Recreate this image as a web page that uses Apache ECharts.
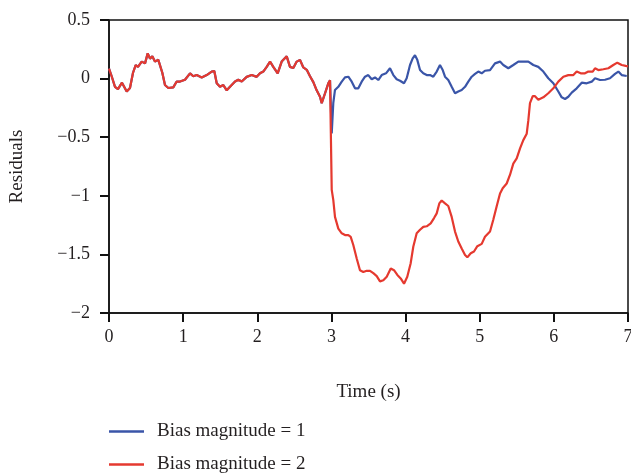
<!DOCTYPE html>
<html>
<head>
<meta charset="utf-8">
<script src="https://cdn.jsdelivr.net/npm/echarts@6/dist/echarts.min.js"></script>
<style>
html,body{margin:0;padding:0;background:#fff;}
#chart{width:631px;height:475px;}
</style>
</head>
<body>
<div id="chart"></div>
<script>
// Shared segment (both series coincide before the fault at t ≈ 3 s)
var timeShared = [0.000,0.036,0.081,0.121,0.175,0.239,0.283,0.324,0.360,0.391,0.441,0.486,0.522,0.553,0.584,0.620,0.665,0.688,0.719,0.755,0.800,0.867,0.913,0.958,1.025,1.093,1.137,1.183,1.250,1.318,1.385,1.420,1.453,1.497,1.542,1.588,1.632,1.700,1.744,1.790,1.857,1.925,1.992,2.037,2.081,2.127,2.172,2.216,2.275,2.329,2.397,2.441,2.486,2.532,2.576,2.621,2.667,2.711,2.756,2.801,2.846,2.869,2.914,2.958,2.981];
var residualShared = [0.085,0.020,-0.070,-0.090,-0.035,-0.110,-0.080,0.050,0.115,0.100,0.145,0.130,0.215,0.170,0.190,0.145,0.160,0.145,0.050,-0.055,-0.080,-0.075,-0.025,-0.025,-0.010,0.045,0.020,0.030,0.010,0.030,0.060,0.065,-0.040,-0.070,-0.055,-0.100,-0.070,-0.025,-0.010,-0.025,0.015,0.030,0.015,0.045,0.060,0.100,0.145,0.100,0.045,0.145,0.190,0.100,0.090,0.145,0.160,0.095,0.075,0.020,-0.030,-0.100,-0.155,-0.210,-0.125,-0.040,-0.015];

// Bias magnitude = 1 after the fault
var timeBias1 = [3.004,3.025,3.048,3.093,3.139,3.183,3.228,3.274,3.318,3.363,3.408,3.453,3.497,3.543,3.588,3.632,3.678,3.736,3.790,3.835,3.880,3.925,3.979,4.015,4.060,4.096,4.127,4.158,4.195,4.239,4.285,4.330,4.374,4.420,4.464,4.501,4.532,4.576,4.622,4.667,4.711,4.757,4.802,4.846,4.892,4.937,4.981,5.027,5.071,5.139,5.206,5.274,5.318,5.386,5.453,5.521,5.588,5.656,5.723,5.790,5.858,5.925,5.993,6.060,6.106,6.151,6.195,6.241,6.308,6.376,6.443,6.511,6.555,6.623,6.690,6.757,6.825,6.870,6.915,6.983];
var residualBias1 = [-0.467,-0.210,-0.097,-0.070,-0.026,0.010,0.016,-0.026,-0.083,-0.083,-0.026,0.016,0.030,-0.006,0.010,-0.012,0.030,0.045,0.088,0.030,-0.006,-0.018,-0.040,0.003,0.116,0.173,0.200,0.160,0.073,0.045,0.030,0.030,0.016,0.060,0.116,0.073,0.016,-0.012,-0.070,-0.125,-0.110,-0.097,-0.070,-0.026,0.016,0.040,0.060,0.045,0.067,0.073,0.130,0.145,0.116,0.088,0.116,0.145,0.145,0.145,0.116,0.100,0.060,0.003,-0.040,-0.110,-0.160,-0.174,-0.155,-0.120,-0.083,-0.035,-0.040,-0.026,0.003,-0.012,-0.010,0.003,0.040,0.060,0.030,0.022];

// Bias magnitude = 2 after the fault
var timeBias2 = [3.004,3.025,3.048,3.093,3.139,3.183,3.228,3.260,3.295,3.341,3.385,3.430,3.476,3.520,3.565,3.611,3.655,3.700,3.746,3.800,3.844,3.889,3.934,3.979,4.023,4.069,4.104,4.150,4.195,4.239,4.285,4.339,4.384,4.420,4.455,4.487,4.532,4.576,4.622,4.667,4.711,4.757,4.802,4.833,4.879,4.923,4.968,5.027,5.071,5.139,5.183,5.229,5.274,5.310,5.364,5.409,5.453,5.499,5.544,5.588,5.634,5.656,5.678,5.715,5.746,5.790,5.858,5.925,5.993,6.060,6.128,6.195,6.263,6.308,6.362,6.420,6.465,6.524,6.555,6.600,6.667,6.735,6.802,6.856,6.915,6.969,7.000];
var residualBias2 = [-0.950,-1.035,-1.180,-1.280,-1.320,-1.335,-1.335,-1.350,-1.420,-1.535,-1.635,-1.650,-1.640,-1.640,-1.660,-1.685,-1.730,-1.720,-1.690,-1.620,-1.635,-1.675,-1.705,-1.750,-1.690,-1.575,-1.435,-1.320,-1.290,-1.265,-1.260,-1.235,-1.190,-1.150,-1.065,-1.040,-1.065,-1.087,-1.180,-1.305,-1.390,-1.450,-1.505,-1.525,-1.490,-1.475,-1.430,-1.410,-1.350,-1.305,-1.205,-1.090,-0.980,-0.935,-0.895,-0.820,-0.725,-0.680,-0.595,-0.525,-0.470,-0.355,-0.210,-0.150,-0.150,-0.180,-0.160,-0.125,-0.083,-0.026,0.016,0.030,0.030,0.060,0.045,0.045,0.060,0.060,0.088,0.073,0.080,0.088,0.116,0.136,0.116,0.108,0.105];

var xTicks = [0,1,2,3,4,5,6,7];
var yTicks = [-2,-1.5,-1,-0.5,0,0.5];
var seriesNames = ['Bias magnitude = 1','Bias magnitude = 2'];

function pairs(t, v){ var out=[]; for(var i=0;i<t.length;i++){ out.push([t[i], v[i]]); } return out; }
var dataBias1 = pairs(timeShared, residualShared).concat(pairs(timeBias1, residualBias1));
var dataBias2 = pairs(timeShared, residualShared).concat(pairs(timeBias2, residualBias2));

var font = 'Liberation Serif';
var txt = '#231f20';
function fmt(v){ return String(v).replace('-', '\u2212'); }

function legendFor(name, top){
  return {
    orient:'vertical', left:104, top:top, itemWidth:35, itemHeight:2.5, itemGap:10, icon:'rect',
    textStyle:{fontFamily:font,fontSize:19,color:txt,padding:[0,0,0,8]},
    data:[name]
  };
}

var chart = echarts.init(document.getElementById('chart'), null, {renderer:'canvas'});
chart.setOption({
  animation:false,
  backgroundColor:'#fff',
  grid:{left:109,right:3,top:20,bottom:162,containLabel:false,outerBoundsMode:'none',show:true,borderColor:'#111',borderWidth:1.5,backgroundColor:'transparent'},
  legend:[legendFor(seriesNames[0], 417), legendFor(seriesNames[1], 450)],
  xAxis:{
    type:'value', min:xTicks[0], max:xTicks[xTicks.length-1], interval:1,
    name:'Time (s)', nameLocation:'middle', nameGap:70,
    nameTextStyle:{fontFamily:font,fontSize:19,color:txt},
    axisLine:{show:true,onZero:false,lineStyle:{color:'#111',width:1.5}},
    axisTick:{show:true,inside:false,length:9,lineStyle:{color:'#111',width:2}},
    axisLabel:{fontFamily:font,fontSize:18,color:txt,margin:15,formatter:fmt},
    splitLine:{show:false}
  },
  yAxis:{
    type:'value', min:yTicks[0], max:yTicks[yTicks.length-1], interval:0.5,
    name:'Residuals', nameLocation:'middle', nameGap:82, nameRotate:90,
    nameTextStyle:{fontFamily:font,fontSize:19,color:txt},
    axisLine:{show:true,onZero:false,lineStyle:{color:'#111',width:1.5}},
    axisTick:{show:true,inside:false,length:9,lineStyle:{color:'#111',width:2}},
    axisLabel:{fontFamily:font,fontSize:18,color:txt,margin:19,formatter:fmt},
    splitLine:{show:false}
  },
  series:[
    {name:seriesNames[0],type:'line',data:dataBias1,showSymbol:false,symbol:'none',lineStyle:{color:'#3a55a8',width:2.2},itemStyle:{color:'#3a55a8'},z:2},
    {name:seriesNames[1],type:'line',data:dataBias2,showSymbol:false,symbol:'none',lineStyle:{color:'#e5392f',width:2.2},itemStyle:{color:'#e5392f'},z:3}
  ]
});
</script>
</body>
</html>
